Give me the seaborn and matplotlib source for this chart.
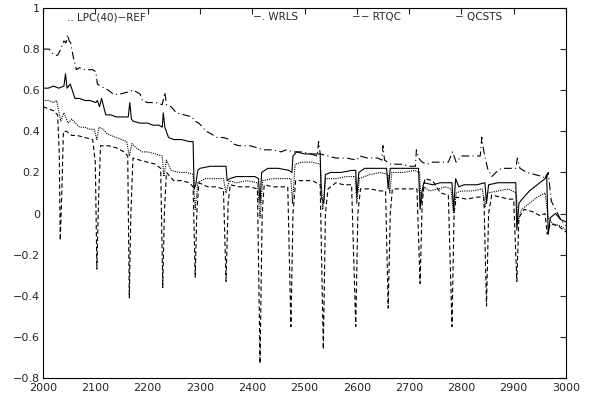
import matplotlib
matplotlib.use("Agg")
import matplotlib.pyplot as plt
import seaborn as sns

# valori letti a occhio dal grafico di riferimento
wrls_x = [2000, 2012, 2018, 2024, 2028, 2034, 2040, 2044, 2047, 2050, 2053, 2058, 2064, 2070, 2080, 2095,
          2101, 2104, 2110, 2118, 2125, 2135, 2145, 2160, 2172, 2180, 2186, 2190, 2200, 2215, 2228, 2233,
          2236, 2245, 2255, 2270, 2285, 2290, 2298, 2305, 2312, 2320, 2333, 2345, 2357, 2362, 2375, 2395,
          2410, 2420, 2440, 2455, 2465, 2478, 2495, 2512, 2524, 2527, 2530, 2545, 2560, 2580, 2600, 2606,
          2620, 2640, 2648, 2650, 2653, 2665, 2685, 2700, 2712, 2714, 2718, 2725, 2735, 2745, 2762, 2775,
          2783, 2790, 2800, 2820, 2836, 2839, 2843, 2850, 2858, 2866, 2876, 2890, 2904, 2907, 2912, 2925,
          2940, 2955, 2962, 2966, 2972, 2980, 2990, 3000]
wrls_y = [0.80, 0.80, 0.78, 0.77, 0.77, 0.80, 0.84, 0.83, 0.87, 0.84, 0.83, 0.76, 0.70, 0.71, 0.70, 0.70,
          0.69, 0.63, 0.62, 0.61, 0.60, 0.58, 0.58, 0.59, 0.60, 0.59, 0.58, 0.55, 0.54, 0.54, 0.53, 0.59,
          0.53, 0.52, 0.49, 0.48, 0.47, 0.45, 0.44, 0.42, 0.40, 0.39, 0.37, 0.37, 0.36, 0.34, 0.33, 0.33,
          0.32, 0.31, 0.31, 0.30, 0.31, 0.30, 0.30, 0.29, 0.28, 0.35, 0.29, 0.28, 0.27, 0.27, 0.26, 0.28,
          0.27, 0.27, 0.26, 0.33, 0.26, 0.24, 0.24, 0.23, 0.23, 0.31, 0.27, 0.25, 0.24, 0.25, 0.25, 0.25,
          0.30, 0.25, 0.28, 0.28, 0.28, 0.37, 0.30, 0.22, 0.18, 0.20, 0.22, 0.22, 0.22, 0.27, 0.22, 0.20,
          0.19, 0.18, 0.17, 0.20, 0.06, 0.02, -0.03, -0.06]

qcsts_x = [2000, 2010, 2020, 2030, 2040, 2043, 2046, 2052, 2056, 2061, 2070, 2080, 2090, 2101, 2104, 2108,
           2112, 2116, 2120, 2130, 2140, 2155, 2163, 2166, 2169, 2172, 2185, 2200, 2210, 2222, 2228, 2230,
           2233, 2240, 2250, 2265, 2280, 2287, 2289, 2292, 2296, 2300, 2320, 2340, 2350, 2352, 2357, 2370,
           2390, 2405, 2412, 2415, 2418, 2430, 2450, 2470, 2476, 2478, 2485, 2500, 2515, 2530, 2532, 2537,
           2540, 2550, 2570, 2590, 2598, 2600, 2604, 2615, 2640, 2657, 2660, 2664, 2680, 2700, 2718, 2721,
           2724, 2728, 2745, 2760, 2775, 2782, 2785, 2789, 2795, 2805, 2830, 2845, 2848, 2852, 2870, 2890,
           2900, 2904, 2906, 2910, 2916, 2930, 2945, 2960, 2963, 2966, 2970, 2980, 2990, 3000]
qcsts_y = [0.61, 0.61, 0.62, 0.61, 0.62, 0.68, 0.61, 0.63, 0.60, 0.56, 0.56, 0.55, 0.55, 0.54, 0.55, 0.52,
           0.56, 0.52, 0.48, 0.48, 0.47, 0.47, 0.47, 0.54, 0.46, 0.45, 0.44, 0.44, 0.43, 0.43, 0.42, 0.49,
           0.42, 0.37, 0.36, 0.36, 0.35, 0.35, 0.12, 0.14, 0.21, 0.22, 0.23, 0.23, 0.23, 0.16, 0.17, 0.18,
           0.18, 0.18, 0.17, 0.05, 0.20, 0.22, 0.22, 0.21, 0.20, 0.28, 0.30, 0.29, 0.29, 0.29, 0.08, 0.05,
           0.19, 0.20, 0.20, 0.21, 0.21, 0.08, 0.20, 0.22, 0.22, 0.22, 0.12, 0.22, 0.22, 0.22, 0.22, 0.02,
           0.10, 0.15, 0.14, 0.15, 0.15, 0.15, 0.02, 0.17, 0.13, 0.14, 0.14, 0.15, 0.05, 0.14, 0.15, 0.15,
           0.15, 0.15, -0.08, 0.05, 0.07, 0.11, 0.14, 0.17, 0.19, -0.10, -0.02, 0.00, -0.03, -0.04]

lpc_x = [2000, 2010, 2020, 2026, 2030, 2034, 2040, 2048, 2055, 2062, 2070, 2080, 2090, 2098, 2103, 2107,
         2115, 2122, 2130, 2140, 2150, 2160, 2165, 2170, 2178, 2190, 2200, 2215, 2228, 2231, 2236, 2245,
         2260, 2275, 2287, 2291, 2296, 2310, 2330, 2345, 2350, 2356, 2370, 2390, 2410, 2415, 2420, 2440,
         2460, 2474, 2477, 2482, 2495, 2515, 2530, 2535, 2540, 2560, 2580, 2597, 2600, 2605, 2625, 2645,
         2660, 2663, 2667, 2690, 2710, 2720, 2723, 2728, 2740, 2755, 2770, 2780, 2785, 2790, 2800, 2820,
         2840, 2845, 2850, 2870, 2890, 2905, 2908, 2915, 2930, 2945, 2960, 2966, 2975, 2990, 3000]
lpc_y = [0.55, 0.55, 0.54, 0.55, 0.50, 0.45, 0.49, 0.44, 0.46, 0.44, 0.42, 0.42, 0.41, 0.41, 0.36, 0.42,
         0.41, 0.39, 0.38, 0.37, 0.36, 0.35, 0.28, 0.34, 0.32, 0.30, 0.30, 0.29, 0.28, 0.18, 0.26, 0.21,
         0.20, 0.20, 0.19, 0.02, 0.15, 0.17, 0.17, 0.17, 0.10, 0.16, 0.15, 0.16, 0.15, -0.02, 0.16, 0.17,
         0.17, 0.17, 0.05, 0.24, 0.25, 0.25, 0.24, 0.02, 0.17, 0.17, 0.18, 0.18, 0.05, 0.17, 0.19, 0.20,
         0.19, 0.10, 0.20, 0.20, 0.21, 0.20, 0.05, 0.13, 0.11, 0.12, 0.13, 0.12, 0.00, 0.10, 0.11, 0.11,
         0.12, 0.03, 0.10, 0.11, 0.12, 0.10, -0.04, 0.02, 0.05, 0.08, 0.10, -0.02, -0.05, -0.06, -0.08]

rtqc_x = [2000, 2010, 2020, 2028, 2031, 2033, 2036, 2039, 2045, 2055, 2065, 2080, 2095, 2100, 2103, 2106,
          2110, 2125, 2140, 2155, 2162, 2165, 2168, 2172, 2185, 2200, 2215, 2225, 2229, 2232, 2236, 2250,
          2265, 2280, 2287, 2291, 2294, 2298, 2315, 2330, 2345, 2350, 2354, 2358, 2375, 2395, 2410, 2415,
          2419, 2423, 2440, 2455, 2468, 2474, 2478, 2483, 2500, 2515, 2530, 2536, 2540, 2545, 2560, 2575,
          2590, 2598, 2602, 2607, 2625, 2645, 2655, 2660, 2664, 2668, 2685, 2700, 2715, 2721, 2725, 2730,
          2745, 2760, 2775, 2782, 2786, 2790, 2810, 2830, 2843, 2848, 2852, 2858, 2875, 2890, 2900, 2906,
          2910, 2920, 2935, 2950, 2960, 2964, 2970, 2985, 3000]
rtqc_y = [0.52, 0.51, 0.50, 0.48, 0.30, -0.13, 0.10, 0.40, 0.40, 0.38, 0.38, 0.37, 0.36, 0.25, -0.27, 0.05,
          0.33, 0.33, 0.32, 0.30, 0.28, -0.41, 0.00, 0.27, 0.26, 0.25, 0.24, 0.22, -0.36, 0.00, 0.20, 0.16,
          0.16, 0.15, 0.13, -0.31, 0.00, 0.15, 0.13, 0.13, 0.12, -0.33, 0.05, 0.14, 0.13, 0.13, 0.12, -0.73,
          0.00, 0.14, 0.13, 0.13, 0.13, -0.55, 0.00, 0.16, 0.16, 0.16, 0.14, -0.66, 0.00, 0.12, 0.15, 0.14,
          0.14, -0.55, 0.00, 0.12, 0.12, 0.11, 0.11, -0.46, 0.00, 0.12, 0.12, 0.12, 0.12, -0.34, 0.05, 0.17,
          0.16, 0.10, 0.09, -0.55, 0.00, 0.08, 0.07, 0.08, 0.08, -0.45, 0.00, 0.09, 0.08, 0.07, 0.07, -0.33,
          -0.02, 0.02, 0.01, -0.01, 0.00, -0.10, -0.05, -0.06, -0.09]

legend_labels = [".. LPC(40)\u2212REF", "\u2212. WRLS", "\u2212\u2212 RTQC", "\u2212 QCSTS"]

sns.set_style("white")
plt.rcParams["font.family"] = ["DejaVu Sans"]

fig = plt.figure(figsize=(5.91, 3.96), dpi=100)
ax = fig.add_axes([43 / 591, 18 / 396, 523 / 591, 370 / 396])

sns.lineplot(x=lpc_x, y=lpc_y, ax=ax, color="k", lw=0.8, linestyle=(0, (1, 1)), estimator=None, sort=False)
sns.lineplot(x=wrls_x, y=wrls_y, ax=ax, color="k", lw=0.8, linestyle=(0, (7, 3, 1, 3)), estimator=None, sort=False)
sns.lineplot(x=rtqc_x, y=rtqc_y, ax=ax, color="k", lw=0.8, linestyle=(0, (4, 2.5)), estimator=None, sort=False)
sns.lineplot(x=qcsts_x, y=qcsts_y, ax=ax, color="k", lw=0.8, linestyle="-", estimator=None, sort=False)

ax.set_xlim(2000, 3000)
ax.set_ylim(-0.8, 1)
ax.set_xticks(range(2000, 3001, 100))
ax.set_yticks([-0.8, -0.6, -0.4, -0.2, 0, 0.2, 0.4, 0.6, 0.8, 1])
ax.set_yticklabels(["\u22120.8", "\u22120.6", "\u22120.4", "\u22120.2", "0", "0.2", "0.4", "0.6", "0.8", "1"])
ax.tick_params(direction="in", length=4, width=0.8, labelsize=8, top=True, right=True)
ax.tick_params(axis="y", pad=2)
ax.tick_params(axis="x", pad=3.5)
for s in ax.spines.values():
    s.set_color("k")
    s.set_linewidth(0.8)
ax.set_xlabel("")
ax.set_ylabel("")

# legenda scritta come testo, come nell'originale
for xpos, lab in zip([0.046, 0.402, 0.59, 0.788], legend_labels):
    ax.text(xpos, 0.975, lab, transform=ax.transAxes, fontsize=7.5, va="center", ha="left")

fig.savefig("out.png", dpi=100)
